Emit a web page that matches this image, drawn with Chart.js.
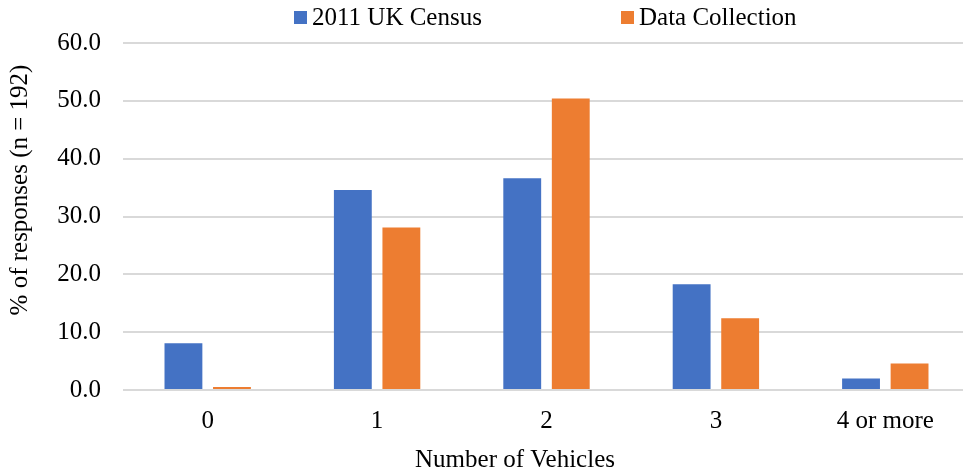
<!DOCTYPE html>
<html>
<head>
<meta charset="utf-8">
<script src="https://cdn.jsdelivr.net/npm/chart.js@4.4.1/dist/chart.umd.min.js"></script>
<style>
  html, body { margin: 0; padding: 0; background: #ffffff; overflow: hidden; }
  #wrap { width: 970px; height: 475px; position: relative; }
</style>
</head>
<body>
<div id="wrap"><canvas id="c"></canvas></div>
<script>
const categories = ['0', '1', '2', '3', '4 or more'];
const censusValues = [8.1, 34.6, 36.6, 18.3, 2.0];
const collectionValues = [0.5, 28.1, 50.4, 12.4, 4.6];
const seriesNames = ['2011 UK Census', 'Data Collection'];
const seriesColors = ['#4472C4', '#ED7D31'];
const xTitle = 'Number of Vehicles';
const yTitle = '% of responses (n = 192)';

const FONT = '"Liberation Serif", "Times New Roman", serif';

const customText = {
  id: 'customText',
  afterDraw(chart) {
    const ctx = chart.ctx;
    ctx.save();
    ctx.fillStyle = '#000';
    ctx.font = '25px ' + FONT;
    ctx.textBaseline = 'middle';
    // legend
    const legendItems = [{ x: 294 }, { x: 621 }];
    chart.data.datasets.forEach((ds, i) => {
      const lx = legendItems[i].x;
      ctx.fillStyle = ds.backgroundColor;
      ctx.fillRect(lx, 11, 13, 13);
      ctx.fillStyle = '#000';
      ctx.textAlign = 'left';
      ctx.fillText(ds.label, lx + 18, 18);
    });
    // x title
    ctx.textAlign = 'center';
    ctx.fillText(xTitle, 515, 460);
    // y title
    ctx.translate(20, 190);
    ctx.rotate(-Math.PI / 2);
    ctx.fillText(yTitle, 0, 0);
    ctx.restore();
  }
};

new Chart(document.getElementById('c'), {
  type: 'bar',
  data: {
    labels: categories,
    datasets: [
      { label: seriesNames[0], data: censusValues, backgroundColor: seriesColors[0] },
      { label: seriesNames[1], data: collectionValues, backgroundColor: seriesColors[1] }
    ]
  },
  options: {
    responsive: true,
    maintainAspectRatio: false,
    animation: false,
    layout: { padding: { top: 43, right: 0, bottom: 0, left: 0 } },
    datasets: { bar: { categoryPercentage: 0.573, barPercentage: 0.78 } },
    plugins: {
      legend: { display: false },
      tooltip: { enabled: false },
      title: { display: false }
    },
    scales: {
      x: {
        grid: { display: false, drawTicks: false },
        border: { display: false },
        ticks: { color: '#000', font: { family: FONT, size: 25 }, padding: 16, maxRotation: 0 },
        afterFit(scale) { scale.height = 85; }
      },
      y: {
        min: 0, max: 60,
        grid: { color: '#d9d9d9', lineWidth: 2, drawTicks: false },
        border: { display: false },
        ticks: {
          stepSize: 10, color: '#000', font: { family: FONT, size: 25 }, padding: 22,
          callback: (v) => Number(v).toFixed(1)
        },
        afterFit(scale) { scale.width = 123; }
      }
    }
  },
  plugins: [customText]
});
</script>
</body>
</html>
